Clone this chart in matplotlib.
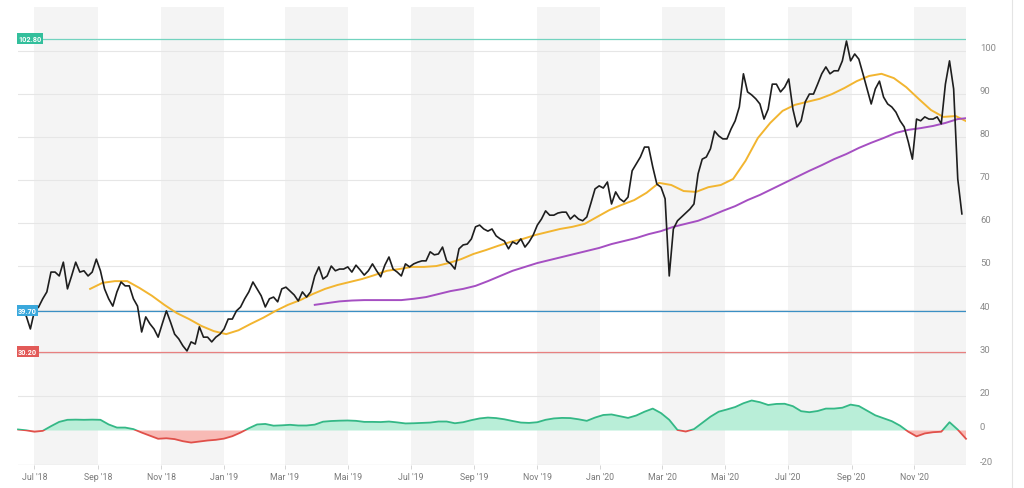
import numpy as np
import pandas as pd
import matplotlib
matplotlib.use('Agg')
import matplotlib.pyplot as plt
from matplotlib.transforms import ScaledTranslation
from matplotlib.patches import Rectangle
from matplotlib.lines import Line2D

plt.rcParams['font.family'] = ['Roboto', 'DejaVu Sans']

# ---------------- data ----------------
price_start = '2018-06-15'   # one close every 4 days
price = [
    39.7, 39.4, 38.5, 35.5, 39.7, 40.6, 42.5, 44.1, 48.7, 48.7,
    47.8, 51.0, 44.8, 47.8, 51.0, 48.7, 49.0, 47.8, 48.7, 51.7,
    49.0, 44.8, 42.5, 40.8, 44.1, 46.4, 45.5, 45.5, 42.5, 40.8,
    34.8, 38.3, 36.7, 35.5, 33.6, 36.7, 39.7, 37.1, 34.3, 33.2,
    31.6, 30.4, 32.5, 32.0, 36.0, 33.6, 33.6, 32.5,
    33.6, 34.3, 35.5, 37.8, 37.8, 39.7, 40.6, 42.5, 44.1, 46.4,
    44.8, 43.2, 40.6, 42.5, 42.9, 41.8, 44.8, 45.2, 44.3, 43.4,
    42.0, 44.1, 42.9, 44.1, 47.8, 49.9, 47.1, 47.8, 50.1, 49.0,
    49.4, 49.4, 49.9, 48.7, 50.3, 49.2, 48.0, 49.0, 50.6, 49.0,
    47.6, 50.3, 52.2, 49.4, 48.7, 47.8, 50.6, 49.9,
    50.6, 51.0, 51.3, 51.3, 53.4, 52.7, 52.9, 54.5, 51.3, 50.6,
    49.4, 54.1, 55.0, 55.2, 56.4, 59.2, 59.6, 58.7, 58.2, 58.7,
    57.1, 56.4, 55.9, 54.1, 55.7, 55.2, 56.4, 54.5, 55.7, 57.3,
    59.6, 61.0, 62.9, 61.9, 61.9, 62.4, 62.6, 62.6, 61.0, 61.9,
    61.0, 60.6, 61.5, 64.7, 68.0, 68.7, 68.2,
    69.6, 64.5, 67.3, 65.7, 65.0, 66.1, 72.2, 73.8, 75.4, 77.7,
    77.7, 73.1, 69.1, 68.4, 65.7, 47.8, 58.7, 60.6, 61.5, 62.4,
    63.3, 64.5, 71.5, 74.9, 75.4, 77.3, 81.4, 80.3, 79.6, 79.6,
    81.9, 83.8, 87.0, 94.7, 90.5, 89.8, 88.9, 87.7, 84.2, 86.5,
    92.3, 92.3, 90.5, 91.6, 93.5, 86.5, 82.4,
    83.8, 88.2, 90.0, 90.0, 92.3, 94.7, 96.3, 94.7, 95.4, 95.4,
    97.7, 102.3, 97.7, 99.3, 98.1, 94.7, 91.2, 87.7, 91.2, 93.0,
    89.3, 87.7, 87.0, 85.8, 83.8, 82.4, 78.9, 74.9, 84.2, 83.8,
    84.7, 84.2, 84.2, 84.7, 83.1, 92.3, 97.7, 91.2, 70.3, 62.2,
]

ma50_start = '2018-08-24'    # one value every 12 days
ma50 = [
    44.8, 46.2, 46.6, 46.6, 45.0, 43.2, 41.1, 39.2, 37.8, 36.2,
    35.0, 34.3, 35.2, 36.7, 38.1, 39.7, 41.1, 42.2, 43.6, 44.8,
    45.7, 46.4, 47.1, 48.0, 49.0, 49.4, 49.9, 49.9, 50.1, 50.8,
    51.7, 52.9, 53.8, 54.8, 55.7, 56.4, 57.3, 58.0, 58.7, 59.2,
    59.9, 61.5, 63.1, 64.3, 65.4, 67.1, 69.4, 68.9, 67.5, 67.3,
    68.4, 68.9, 70.3, 74.5, 79.8, 83.3, 86.1, 87.5, 88.2, 88.9,
    90.0, 91.4, 93.0, 94.2, 94.7, 93.7, 91.6, 88.9, 86.3, 84.7,
    84.9, 83.5,
]

ma200_start = '2019-03-30'   # one value every 12 days
ma200 = [
    41.1, 41.5, 41.9, 42.1, 42.2, 42.2, 42.2, 42.2, 42.5, 42.9,
    43.6, 44.3, 44.8, 45.5, 46.6, 47.8, 49.0, 49.9, 50.8, 51.5,
    52.2, 52.9, 53.6, 54.3, 55.2, 55.9, 56.6, 57.5, 58.2, 59.2,
    59.9, 60.6, 61.7, 62.9, 64.0, 65.4, 66.6, 68.0, 69.4, 70.8,
    72.2, 73.5, 74.9, 76.1, 77.5, 78.7, 79.8, 81.0, 81.7, 82.1,
    82.6, 83.3, 84.2, 84.5,
]

osc_start = '2018-06-15'     # one value every 8 days
osc = [
    0.6, 0.1, -0.7, -0.2, 2.5, 5.0, 6.2, 6.3, 6.2, 6.3,
    6.2, 3.5, 1.7, 1.7, 0.8, -1.2, -3.0, -4.8, -4.5, -5.0,
    -6.2, -7.0, -6.4, -5.8, -5.4, -4.7, -3.3, -1.2, 1.3, 3.5,
    3.8, 2.8, 3.0, 3.3, 2.9, 2.9, 3.4, 5.1, 5.5, 5.7,
    5.8, 5.6, 5.0, 5.0, 4.9, 5.2, 4.7, 4.1, 4.2, 4.4,
    4.6, 5.2, 5.2, 4.2, 4.8, 6.0, 7.0, 7.5, 7.2, 6.5,
    5.5, 4.6, 4.4, 4.8, 6.2, 7.0, 7.3, 7.2, 6.5, 5.6,
    7.5, 9.0, 9.3, 8.3, 7.3, 8.7, 10.9, 12.7, 10.1, 6.2,
    0.3, -0.6, 0.8, 4.4, 8.0, 10.9, 12.2, 13.6, 15.8, 17.4,
    16.4, 14.8, 15.4, 15.5, 14.1, 11.2, 10.6, 11.3, 12.7, 12.7,
    13.2, 15.0, 14.2, 11.5, 8.8, 7.1, 5.4, 2.8, -0.7, -3.4,
    -1.7, -1.0, -0.7, 4.8, 0.5, -4.8,
]

levels = [102.8, 39.7, 30.2]
level_labels = ['102.80', '39.70', '30.20']
level_line_colors = ['#72d3bf', '#3b8fc4', '#e88080']
level_box_colors = ['#33bf9c', '#3aa8dc', '#e25a58']

tick_dates = ['2018-07-01', '2018-09-01', '2018-11-01', '2019-01-01', '2019-03-01',
              '2019-05-01', '2019-07-01', '2019-09-01', '2019-11-01', '2020-01-01',
              '2020-03-01', '2020-05-01', '2020-07-01', '2020-09-01', '2020-11-01']
tick_labels = ["Jul '18", "Sep '18", "Nov '18", "Jan '19", "Mar '19", "Mai '19",
               "Jul '19", "Sep '19", "Nov '19", "Jan '20", "Mar '20", "Mai '20",
               "Jul '20", "Sep '20", "Nov '20"]
price_ticks = [30, 40, 50, 60, 70, 80, 90, 100]
osc_ticks = [-20, 0, 20]

# ---------------- figure ----------------
fig = plt.figure(figsize=(10.24, 4.89), dpi=100)
fig.patch.set_facecolor('white')
ax = fig.add_axes([18 / 1024, 23 / 489, 948 / 1024, 458 / 489])
ax2 = ax.twinx()

x0, x1 = pd.Timestamp('2018-06-15'), pd.Timestamp('2020-12-21')
ax.set_xlim(x0, x1)
ax.set_ylim(3.94, 110.2)
ax2.set_ylim(-20, 245.5)

for a in (ax, ax2):
    for s in a.spines.values():
        s.set_visible(False)

# alternating background bands
td = pd.to_datetime(tick_dates)
for i in range(0, len(td), 2):
    ax.axvspan(td[i], td[i] + pd.DateOffset(months=2), color='#f4f4f4', lw=0, zorder=0)

# grid
for v in [20] + price_ticks:
    ax.axhline(v, color='#e6e6e6', lw=0.8, zorder=0.5)
ax2.axhline(-20, color='#dcdcdc', lw=0.9, zorder=0.5)

# series
pdates = pd.date_range(price_start, periods=len(price), freq='4D')
ax.plot(pd.date_range(ma50_start, periods=len(ma50), freq='12D'), ma50,
        color='#f2b530', lw=1.4, zorder=4)
ax.plot(pd.date_range(ma200_start, periods=len(ma200), freq='12D'), ma200,
        color='#a54fc2', lw=1.4, zorder=4)
ax.plot(pdates, price, color='#1e1e1e', lw=1.2, zorder=5)

# horizontal levels
for v, lab, lc, bc in zip(levels, level_labels, level_line_colors, level_box_colors):
    ax.axhline(v, color=lc, lw=0.9, zorder=3)
    ax.text(x0, v, lab, ha='left', va='center', fontsize=5.2, color='white',
            fontweight='bold', zorder=6,
            bbox=dict(boxstyle='square,pad=0.2', fc=bc, ec='none'))

# oscillator
odates = pd.date_range(osc_start, periods=len(osc), freq='8D')
o = np.array(osc)
ax2.fill_between(odates, o, 0, where=o >= 0, interpolate=True, color='#b9eed8', lw=0, zorder=2)
ax2.fill_between(odates, o, 0, where=o <= 0, interpolate=True, color='#f8bab5', lw=0, zorder=2)
clip_pos = Rectangle((0, 0), 1e6, 1000, transform=ax2.transData)
clip_neg = Rectangle((0, -1000), 1e6, 1000, transform=ax2.transData)
lp, = ax2.plot(odates, o, color='#34b886', lw=1.3, zorder=3)
ln, = ax2.plot(odates, o, color='#e0504a', lw=1.3, zorder=3)
lp.set_clip_path(clip_pos)
ln.set_clip_path(clip_neg)

# ticks
ax.set_xticks(pd.to_datetime(tick_dates))
ax.set_xticklabels(tick_labels)
ax.tick_params(axis='x', length=3, width=0.6, color='#cfcfcf', labelsize=6.3,
               labelcolor='#7a7a7a', pad=2)
ax.yaxis.tick_right()
ax.set_yticks(price_ticks)
ax.set_yticklabels([str(t) for t in price_ticks])
ax2.set_yticks(osc_ticks)
ax2.set_yticklabels([str(t) for t in osc_ticks])
for a in (ax, ax2):
    a.tick_params(axis='y', length=0, labelsize=6.8, labelcolor='#8a8a8a', pad=10)
    for lbl in a.get_yticklabels():
        lbl.set_transform(lbl.get_transform() + ScaledTranslation(0, 4.5 / 100, fig.dpi_scale_trans))

fig.add_artist(Line2D([1012 / 1024, 1012 / 1024], [0, 1], color='#e4e4e4', lw=0.8))

fig.savefig('out.png', dpi=100, facecolor='white')
